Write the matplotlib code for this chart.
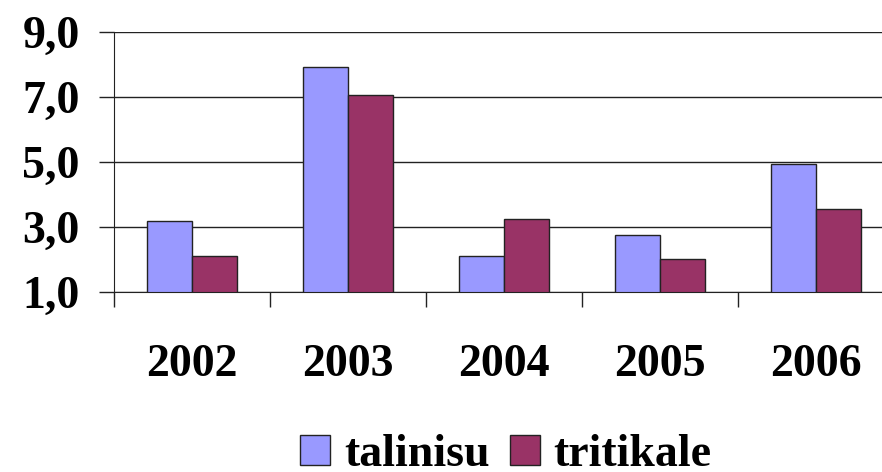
import matplotlib
matplotlib.use("Agg")
import matplotlib.pyplot as plt
import numpy as np
from matplotlib.ticker import FixedLocator, FuncFormatter

years = ["2002", "2003", "2004", "2005", "2006"]
talinisu = [3.20, 7.93, 2.11, 2.77, 4.96]
tritikale = [2.13, 7.07, 3.26, 2.03, 3.56]
series_names = ["talinisu", "tritikale"]
yticks = [1.0, 3.0, 5.0, 7.0, 9.0]

plt.rcParams['font.family'] = ['Liberation Serif', 'DejaVu Serif']
plt.rcParams['font.weight'] = 'bold'

fig = plt.figure(figsize=(8.82, 4.72), dpi=100)
ax = fig.add_axes([114.3/882, (472-292.3)/472, 780/882, 260/472])

x = np.arange(len(years))
w = 0.2885
c1 = '#9999FF'
c2 = '#993366'
ax.bar(x - w/2, talinisu, w, bottom=0, color=c1, edgecolor='#222222', linewidth=1.0, label=series_names[0], zorder=3)
ax.bar(x + w/2, tritikale, w, bottom=0, color=c2, edgecolor='#222222', linewidth=1.0, label=series_names[1], zorder=3)

ax.set_xlim(-0.5, len(years) - 0.5)
ax.set_ylim(1.0, 9.0)
ax.set_yticks(yticks)
ax.yaxis.set_major_formatter(FuncFormatter(lambda v, p: f"{v:.1f}".replace('.', ',')))
ax.yaxis.grid(True, color='#222222', linewidth=1.0, zorder=0)
ax.set_axisbelow(True)

ax.set_xticks(x)
ax.set_xticklabels(years)
ax.xaxis.set_minor_locator(FixedLocator(np.arange(-0.5, len(years) + 0.5, 1.0)))
ax.tick_params(axis='x', which='major', length=0, pad=37, labelsize=33)
ax.tick_params(axis='x', which='minor', length=10.8, width=1.0, color='#222222', direction='out')
ax.tick_params(axis='y', which='major', length=10.8, width=1.0, color='#222222', direction='out', pad=14, labelsize=33)

for s in ['top', 'right']:
    ax.spines[s].set_visible(False)
ax.spines['left'].set_color('#222222')
ax.spines['bottom'].set_color('#222222')
ax.spines['bottom'].set_zorder(4)

for lab in ax.get_xticklabels() + ax.get_yticklabels():
    lab.set_fontweight('bold')

leg = fig.legend(loc='center', bbox_to_anchor=(506/882, 17/472), ncol=2, frameon=False,
                 fontsize=33, handlelength=0.65, handleheight=0.65, handletextpad=0.3,
                 columnspacing=0.45, borderpad=0, borderaxespad=0)
for t in leg.get_texts():
    t.set_fontweight('bold')

fig.savefig("out.png", dpi=100)
